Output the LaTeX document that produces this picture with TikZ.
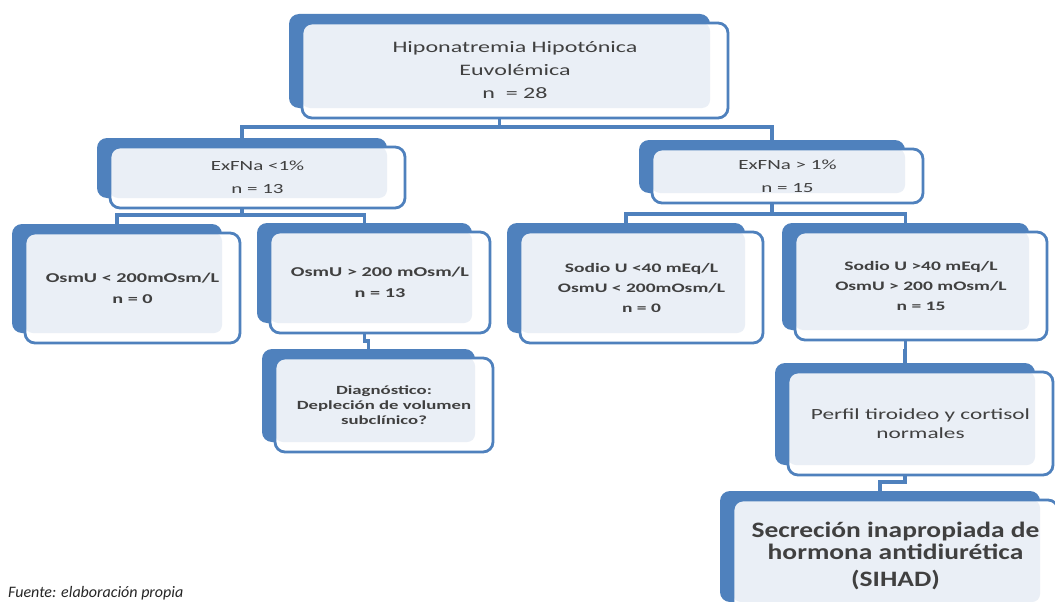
\documentclass[tikz,border=0pt]{standalone}
\usepackage{fontspec}
\setmainfont{Carlito}
\newfontfamily\fa[FakeStretch=1.5]{Carlito}
\newfontfamily\fc[FakeStretch=1.25]{Carlito}
\definecolor{bblue}{RGB}{79,129,189}
\definecolor{litec}{RGB}{234,239,246}
\definecolor{tgray}{RGB}{64,64,64}
\tikzset{
  backbox/.style={fill=bblue, rounded corners=10pt, inner sep=0pt, outer sep=0pt},
  frontbox/.style={draw=bblue, line width=2.8pt, fill=white, rounded corners=10pt, inner sep=0pt, outer sep=0pt, align=center, text=tgray},
  conn/.style={draw=bblue, line width=3.2pt},
}
\newcommand\blockbox[7]{%
  \node[backbox, minimum width={#4-#2-5}, minimum height={#5-#3-1}] (#1b) at ({(#2+#4)/2-15.5},{(#3+#5)/2-9.5}) {};
  \node[frontbox, minimum width={#4-#2}, minimum height={#5-#3}, font={#6},
     path picture={\fill[litec, rounded corners=8pt] (path picture bounding box.north west) rectangle (#1b.south east);}]
     (#1) at ({(#2+#4)/2},{(#3+#5)/2}) {#7};
}
\begin{document}
\begin{tikzpicture}[x=1pt,y=-1pt]
\useasboundingbox (0,0) rectangle (1055,602);
\clip (0,0) rectangle (1055,602);
\fill[white] (0,0) rectangle (1055,602);

\blockbox{top}{302}{23}{728}{118}{\fa\fontsize{16}{23}\selectfont}{Hiponatremia Hipotónica\\Euvolémica\\n \ = 28}
\blockbox{exl}{110}{147}{405}{208}{\fa\fontsize{14}{23}\selectfont}{ExFNa <1\%\\n = 13}
\blockbox{osmL}{25}{233}{240}{343}{\fa\bfseries\fontsize{13.5}{21}\selectfont}{OsmU < 200mOsm/L\\n = 0}
\blockbox{osmG}{270}{232}{490}{333}{\fa\bfseries\fontsize{13.5}{21}\selectfont}{OsmU > 200 mOsm/L\\n = 13}
\blockbox{diag}{275}{358}{493}{452}{\fa\bfseries\fontsize{12.5}{15}\selectfont}{Diagnóstico:\\Depleción de volumen\\subclínico?}
\blockbox{exg}{652}{149}{923}{203}{\fa\fontsize{14}{23}\selectfont}{ExFNa > 1\%\\n = 15}
\blockbox{sl}{520}{232}{763}{343}{\fa\bfseries\fontsize{13}{20}\selectfont}{Sodio U <40 mEq/L\\OsmU < 200mOsm/L\\n = 0}
\blockbox{sg}{795}{232}{1047}{340}{\fa\bfseries\fontsize{13}{20}\selectfont}{Sodio U >40 mEq/L\\OsmU > 200 mOsm/L\\n = 15}
\blockbox{perf}{788}{372}{1053}{475}{\fa\fontsize{15.5}{19}\selectfont}{Perfil tiroideo y cortisol\\normales}
\blockbox{sihad}{733}{500}{1058}{612}{\fc\bfseries\fontsize{22}{22}\selectfont}{Secreción inapropiada de\\hormona antidiurética\\[5pt](SIHAD)}

\draw[conn] (topb.center |- top.south) -- ++(0,9) coordinate (j1) -| (exlb.north);
\draw[conn] (j1) -| (exgb.north);
\draw[conn] (exlb.center |- exl.south) -- ++(0,7) coordinate (j2) -| (osmLb.north);
\draw[conn] (j2) -| (osmGb.north);
\draw[conn] (exgb.center |- exg.south) -- ++(0,11) coordinate (j3) -| (slb.north);
\draw[conn] (j3) -| (sgb.north);
\draw[conn] (osmGb.center |- osmG.south) -- ++(0,8) -| (diagb.north);
\draw[conn] (sgb.center |- sg.south) -- ++(0,11) -| (perfb.north);
\draw[conn] (perfb.center |- perf.south) -- ++(0,7) -| (sihadb.north);

\node[anchor=base west, inner sep=0pt, font=\itshape\fontsize{16}{18}\selectfont, text={rgb,255:red,38;green,38;blue,38}] (src) at (8,597) {Fuente: elaboración propia};
\end{tikzpicture}
\end{document}
